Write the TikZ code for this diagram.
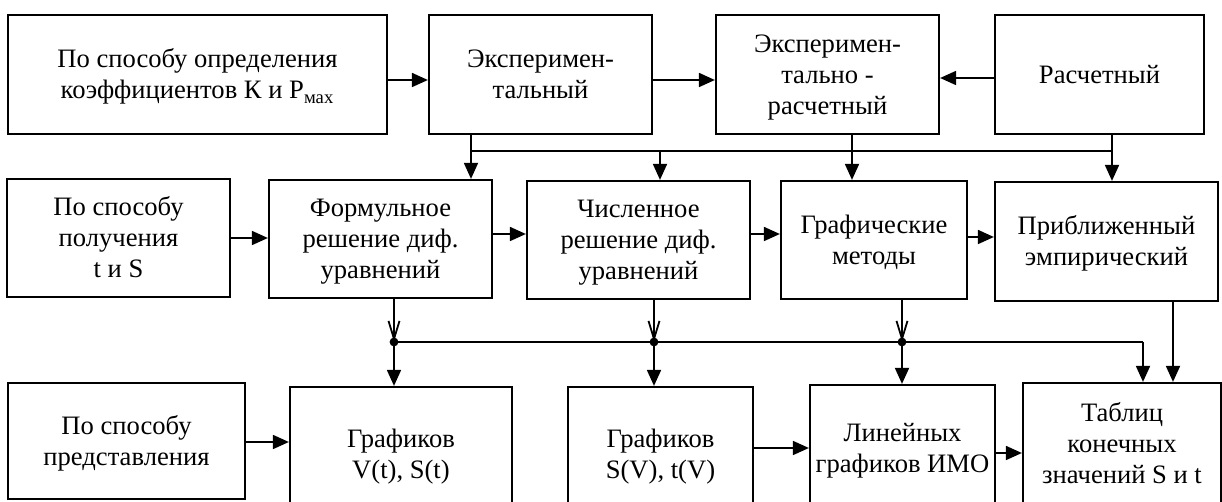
\documentclass[tikz,border=0pt]{standalone}
\usepackage{fontspec}
\setmainfont{Liberation Serif}
\usetikzlibrary{fit,arrows.meta}
\newcommand{\boxtxt}[1]{\raisebox{-5pt}[0pt][0pt]{\begin{tabular}[c]{@{}c@{}}#1\end{tabular}}}
\begin{document}
\begin{tikzpicture}[x=0.5pt,y=-0.5pt,
  box/.style={draw, line width=1.1pt, inner sep=0pt,
    font=\fontsize{13.3}{15.5}\selectfont},
  conn/.style={line width=0.9pt},
  arr/.style={conn, -{Triangle[length=8pt,width=7pt]}},
  barb/.style={conn, -{Straight Barb[length=9pt,width=5.5pt]}},
  jdot/.style={fill=black}]
\path[use as bounding box] (0,0) rectangle (1222,502);
\clip (0,0) rectangle (1222,502);
% row 1
\node[box, fit={(8,15) (387,134)}] (A) {\boxtxt{По способу определения\\коэффициентов К и Р\textsubscript{мах}}};
\node[box, fit={(429,15) (652,134)}] (B) {\boxtxt{Эксперимен-\\тальный}};
\node[box, fit={(716,15) (939,134)}] (C) {\boxtxt{Эксперимен-\\тально -\\расчетный}};
\node[box, fit={(995,15) (1204,134)}] (D) {\boxtxt{Расчетный}};
% row 2
\node[box, fit={(7,179) (230,297)}] (E) {\boxtxt{По способу\\получения\\t и S}};
\node[box, fit={(269,180) (492,298)}] (F) {\boxtxt{Формульное\\решение диф.\\уравнений}};
\node[box, fit={(527,181) (750,299)}] (G) {\boxtxt{Численное\\решение диф.\\уравнений}};
\node[box, fit={(781,181) (967,299)}] (H) {\boxtxt{Графические\\методы}};
\node[box, fit={(995,182) (1218,301)}] (I) {\boxtxt{Приближенный\\эмпирический}};
% row 3
\node[box, fit={(8,383) (245,499)}] (J) {\boxtxt{По способу\\представления}};
\node[box, fit={(290,387) (512,521)}] (K) {\boxtxt{Графиков\\V(t), S(t)}};
\node[box, fit={(568,387) (753,521)}] (L) {\boxtxt{Графиков\\S(V), t(V)}};
\node[box, fit={(810,385) (995,511)}] (M) {\boxtxt{Линейных\\графиков ИМО}};
\node[box, fit={(1023,383) (1221,505)}] (N) {\boxtxt{Таблиц\\конечных\\значений S и t}};
% row-level coordinates
\coordinate (r1) at (0,80);
\coordinate (r1b) at (0,78);
\coordinate (r2a) at (0,238);
\coordinate (r2b) at (0,234);
\coordinate (r2c) at (0,237);
\coordinate (r3a) at (0,442);
\coordinate (r3b) at (0,448);
\coordinate (r3c) at (0,453);
% horizontal arrows
\draw[arr] (A.east |- r1) -- (B.west |- r1);
\draw[arr] (B.east |- r1) -- (C.west |- r1);
\draw[arr] (D.west |- r1b) -- (C.east |- r1b);
\draw[arr] (E.east |- r2a) -- (F.west |- r2a);
\draw[arr] (F.east |- r2b) -- (G.west |- r2b);
\draw[arr] (G.east |- r2b) -- (H.west |- r2b);
\draw[arr] (H.east |- r2c) -- (I.west |- r2c);
\draw[arr] (J.east |- r3a) -- (K.west |- r3a);
\draw[arr] (L.east |- r3b) -- (M.west |- r3b);
\draw[arr] (M.east |- r3c) -- (N.west |- r3c);
% upper bus
\coordinate (u1) at (471,151);
\coordinate (u2) at (660,151);
\coordinate (u3) at (852,151);
\coordinate (u4) at (1112,151);
\draw[conn] (B.south -| u1) -- (u1) -- (u4);
\draw[conn] (C.south -| u3) -- (u3);
\draw[conn] (D.south -| u4) -- (u4);
\draw[arr] (u1) -- (F.north -| u1);
\draw[arr] (u2) -- (G.north -| u2);
\draw[arr] (u3) -- (H.north -| u3);
\draw[arr] (u4) -- (I.north -| u4);
% lower bus
\coordinate (l1) at (394,342);
\coordinate (l2) at (654,342);
\coordinate (l3) at (902,342);
\coordinate (l4) at (1143,342);
\coordinate (l5) at (1173,342);
\draw[conn] (l1) -- (l4);
\draw[barb] (F.south -| l1) -- (l1);
\draw[barb] (G.south -| l2) -- (l2);
\draw[barb] (H.south -| l3) -- (l3);
\draw[arr] (l1) -- (K.north -| l1);
\draw[arr] (l2) -- (L.north -| l2);
\draw[arr] (l3) -- (M.north -| l3);
\draw[arr] (l4) -- (N.north -| l4);
\draw[arr] (I.south -| l5) -- (N.north -| l5);
\fill[jdot] (l1) circle[radius=2.2pt];
\fill[jdot] (l2) circle[radius=2.2pt];
\fill[jdot] (l3) circle[radius=2.2pt];
\end{tikzpicture}
\end{document}
